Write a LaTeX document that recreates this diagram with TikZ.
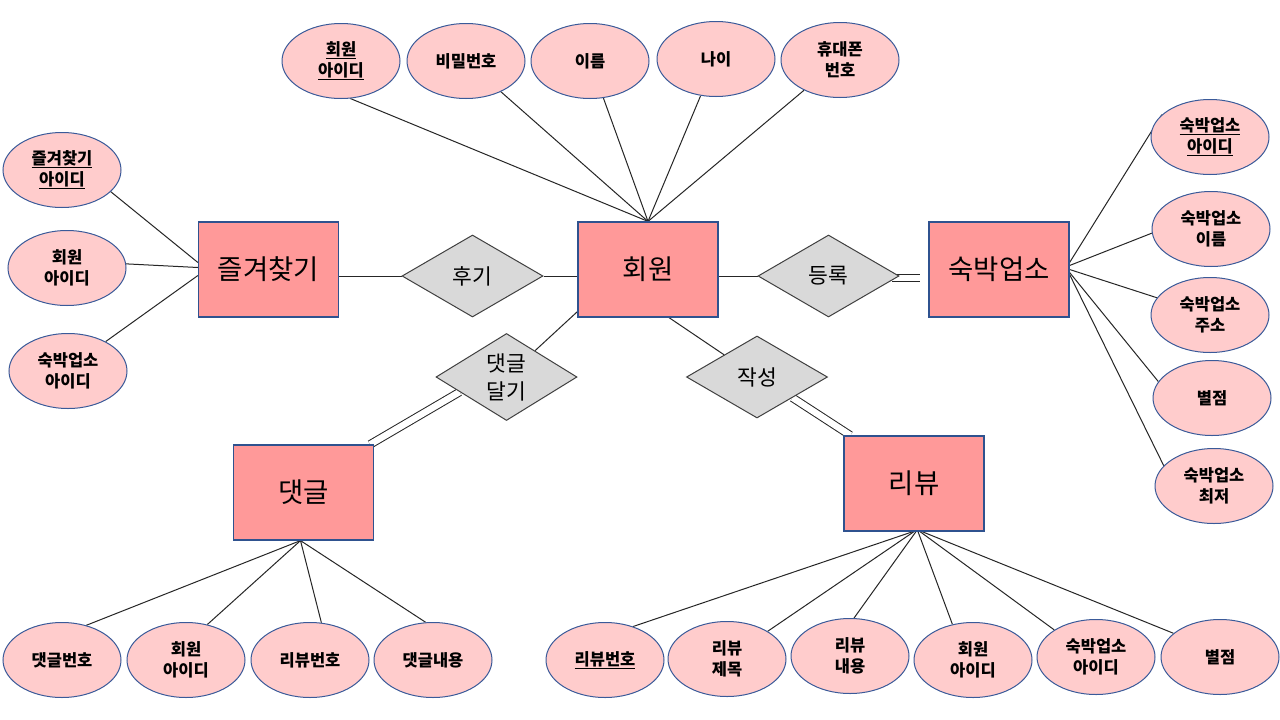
\documentclass[tikz,border=0pt]{standalone}
\usepackage{fontspec}
\setmainfont{Noto Sans CJK KR}
\usetikzlibrary{shapes.geometric,calc}
\definecolor{entfill}{HTML}{FF9999}
\definecolor{entdraw}{HTML}{2F528F}
\definecolor{attfill}{HTML}{FFCCCC}
\definecolor{attdraw}{HTML}{3A5A99}
\definecolor{relfill}{HTML}{D9D9D9}
\definecolor{reldraw}{HTML}{404040}
\definecolor{lnk}{HTML}{262626}
\pgfdeclarelayer{back}
\pgfdeclarelayer{bg}
\pgfsetlayers{back,bg,main}
\begin{document}
\begin{tikzpicture}[x=1pt,y=-1pt,
  entity/.style={rectangle, draw=entdraw, fill=entfill, line width=1.2pt, minimum width=140pt, minimum height=95pt, inner sep=0pt, font=\fontsize{27.5}{32}\selectfont},
  rel/.style={diamond, draw=reldraw, fill=relfill, line width=1pt, minimum width=141pt, minimum height=82pt, inner sep=0pt, align=center, font=\fontsize{21.5}{28}\selectfont},
  attr/.style={ellipse, draw=attdraw, fill=attfill, line width=1pt, minimum width=118pt, minimum height=75pt, inner sep=0pt, align=center, font=\fontsize{16.5}{21}\selectfont\bfseries},
  link/.style={draw=lnk, line width=1pt},
  dbl/.style={draw=lnk, line width=1pt, double=white, double distance=6.5pt}]
\begin{pgfonlayer}{back}
\fill[white] (0,0) rectangle (1280,720);
\end{pgfonlayer}
\useasboundingbox (0,0) rectangle (1280,720);

% entities
\node[entity] (hoewon) at (648,269.5) {회원};
\node[entity] (fav) at (268.5,269.5) {즐겨찾기};
\node[entity] (acc) at (999,269.5) {숙박업소};
\node[entity] (cmt) at (303.5,492.5) {댓글};
\node[entity] (rev) at (914,483.5) {리뷰};

% relationships
\node[rel] (hugi) at (472.5,276) {후기};
\node[rel] (deung) at (828.5,276) {등록};
\node[rel] (dglg) at (506.5,377) {댓글\\달기};
\node[rel] (jaks) at (757,377) {작성};

% member attributes
\node[attr] (a1) at (341,61) {\underline{회원}\\\underline{아이디}};
\node[attr] (a2) at (466,61) {비밀번호};
\node[attr] (a3) at (590,61) {이름};
\node[attr] (a4) at (716,59) {나이};
\node[attr] (a5) at (840,60) {휴대폰\\번호};

% favourite attributes
\node[attr] (l1) at (62,170) {\underline{즐겨찾기}\\\underline{아이디}};
\node[attr] (l2) at (67,268) {회원\\아이디};
\node[attr] (l3) at (68,371) {숙박업소\\아이디};

% lodging attributes
\node[attr] (r1) at (1210,137) {\underline{숙박업소}\\\underline{아이디}};
\node[attr] (r2) at (1211,229) {숙박업소\\이름};
\node[attr] (r3) at (1210,315) {숙박업소\\주소};
\node[attr] (r4) at (1212,398) {별점};
\node[attr] (r5) at (1214,486) {숙박업소\\최저};

% comment attributes
\node[attr] (c1) at (62,660) {댓글번호};
\node[attr] (c2) at (186,660) {회원\\아이디};
\node[attr] (c3) at (310,660) {리뷰번호};
\node[attr] (c4) at (433,660) {댓글내용};

% review attributes
\node[attr] (v1) at (605,660) {\underline{리뷰번호}};
\node[attr] (v2) at (727,659) {리뷰\\제목};
\node[attr] (v3) at (850,656) {리뷰\\내용};
\node[attr] (v4) at (973,660) {회원\\아이디};
\node[attr] (v5) at (1096,657) {숙박업소\\아이디};
\node[attr] (v6) at (1220,657) {별점};

\begin{pgfonlayer}{bg}
  \draw[link] (hoewon.north) -- (a1.-76);
  \foreach \a in {a2,a3,a4,a5} \draw[link] (hoewon.north) -- (\a);
  \draw[link] ([shift={(0,-7)}]fav.west) -- (l1.-24);
  \draw[link] ([shift={(0,-2)}]fav.west) -- (l2.4);
  \draw[link] ([shift={(0,6)}]fav.west) -- (l3.38);
  \draw[link] ([shift={(0,-7)}]acc.east) -- (r1.155);
  \draw[link] ([shift={(0,-4)}]acc.east) -- (r2.184);
  \draw[link] ([shift={(0,0)}]acc.east) -- (r3.162);
  \draw[link] ([shift={(0,3)}]acc.east) -- (r4.163);
  \draw[link] ([shift={(0,5)}]acc.east) -- (r5.158);
  \draw[link] ([shift={(-3,0)}]cmt.south) -- (c1.55);
  \draw[link] ([shift={(-3,0)}]cmt.south) -- (c2.59);
  \draw[link] ([shift={(-3,0)}]cmt.south) -- (c3.73);
  \draw[link] ([shift={(-3,0)}]cmt.south) -- (c4.101);
  \draw[link] ([shift={(-1,0)}]rev.south) -- (v1.50);
  \draw[link] ([shift={(0,0)}]rev.south) -- (v2);
  \draw[link] ([shift={(2,0)}]rev.south) -- (v3.84);
  \draw[link] ([shift={(4,0)}]rev.south) -- (v4.120);
  \draw[link] ([shift={(6,0)}]rev.south) -- (v5.147);
  \draw[link] ([shift={(8,0)}]rev.south) -- (v6.153);
  % relationships
  \draw[link] (fav.east |- hugi.west) -- (hugi.west);
  \draw[link] (hugi.east) -- (hugi.east -| hoewon.west);
  \draw[link] (hoewon.east |- deung.west) -- (deung.west);
  \draw[dbl] ([shift={(-8,2)}]deung.east) -- ([shift={(-8,2)}]deung.east -| acc.west);
  \draw[link] ([shift={(0,-6)}]hoewon.south west) -- (dglg);
  \draw[dbl] ([shift={(-4,0)}]cmt.north east) -- ($(dglg.west)!0.34!(dglg.south)$);
  \draw[link] ([shift={(21,0)}]hoewon.south) -- (jaks);
  \draw[dbl] ($(jaks.south)!0.5!(jaks.east)$) -- ([shift={(7,0)}]rev.north west);
\end{pgfonlayer}
\end{tikzpicture}
\end{document}
